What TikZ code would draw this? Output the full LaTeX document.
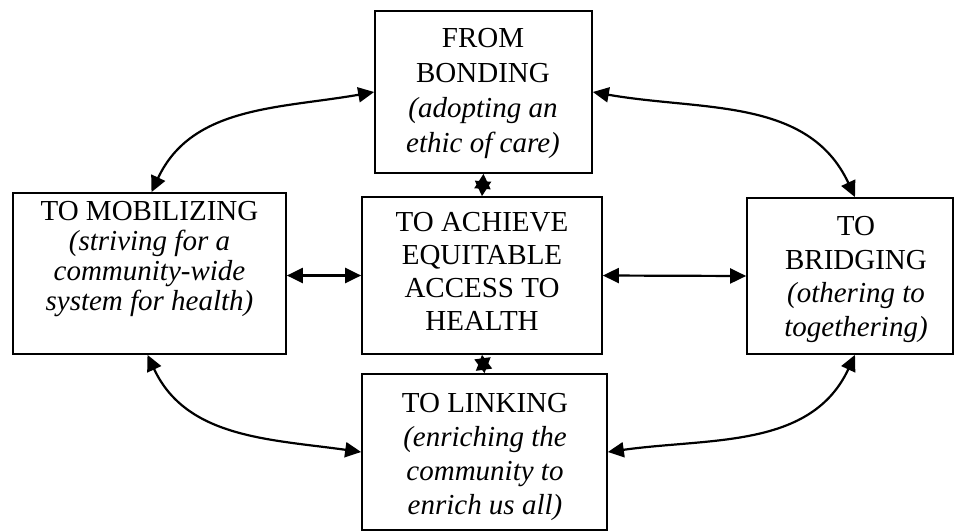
\documentclass[tikz,border=0pt]{standalone}
\usepackage{fontspec}
\setmainfont{Liberation Serif}
\usetikzlibrary{arrows.meta}

\begin{document}
\begin{tikzpicture}[x=1pt,y=-1pt,
		box/.style={draw,line width=1.7pt,inner sep=0pt},
		txt/.style={anchor=north,align=center,inner sep=0pt},
		arr/.style={line width=2.2pt,{Triangle[length=16pt,width=15pt]}-{Triangle[length=16pt,width=15pt]}},
		short/.style={line width=2pt,{Triangle[length=15pt,width=16pt]}-{Triangle[length=15pt,width=16pt]}}]
	\useasboundingbox (0,0) rectangle (954,531);
	% the five boxes
	\node[box,minimum width=217pt,minimum height=162pt] (bond) at (483.5,92) {};
	\node[box,minimum width=273pt,minimum height=161pt] (mob) at (149.5,273.5) {};
	\node[box,minimum width=240pt,minimum height=157pt] (ach) at (482,275.5) {};
	\node[box,minimum width=206pt,minimum height=156pt] (brid) at (850,276) {};
	\node[box,minimum width=245pt,minimum height=156pt] (lnk) at (484.5,452) {};
	% texts
	\node[txt,font=\fontsize{29}{35}\selectfont] (bondtxt) at (483,28) {FROM\\BONDING\\\textit{(adopting an}\\\textit{ethic of care)}};
	\node[txt,font=\fontsize{29}{30}\selectfont] (mobtxt) at (149.5,201) {TO MOBILIZING\\\textit{(striving for a}\\\textit{community-wide}\\\textit{system for health)}};
	\node[txt,font=\fontsize{29}{33}\selectfont] (achtxt) at (482,212) {TO ACHIEVE\\EQUITABLE\\ACCESS TO\\HEALTH};
	\node[txt,font=\fontsize{29}{33.7}\selectfont] (bridtxt) at (856,216) {TO\\BRIDGING\\\textit{(othering to}\\\textit{togethering)}};
	\node[txt,font=\fontsize{29}{34}\selectfont] (lnktxt) at (485,393) {TO LINKING\\\textit{(enriching the}\\\textit{community to}\\\textit{enrich us all)}};
	% connectors
	\draw[arr] (bond.west) to[out=190,in=65] ([xshift=2pt]mob.north);
	\draw[arr] (bond.east) to[out=-10,in=115] ([xshift=5pt]brid.north);
	\draw[arr] ([xshift=-2pt]mob.south) to[out=-65,in=172] (lnk.west);
	\draw[arr] ([xshift=5pt]brid.south) to[out=-115,in=8] (lnk.east);
	\draw[arr] (mob.east |- ach.west) -- (ach.west);
	\draw[arr] (ach.east) -- (brid.west);
	\draw[short] (bond.south) -- (ach.north);
	\draw[short] (ach.south) -- (lnk.north);
\end{tikzpicture}
\end{document}
